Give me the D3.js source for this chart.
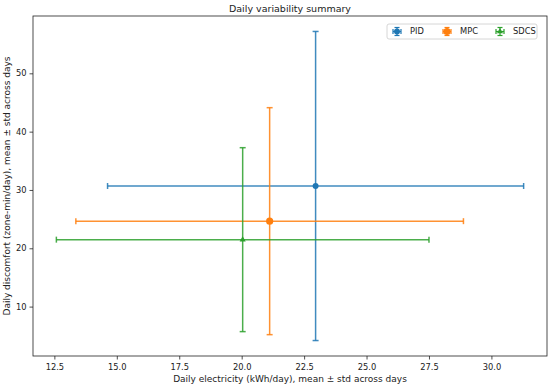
<!DOCTYPE html>
<html>
<head>
<meta charset="utf-8">
<script src="https://cdn.jsdelivr.net/npm/d3@7"></script>
<style>
  body { margin: 0; background: #fff; }
  text { font-family: "DejaVu Sans", sans-serif; }
</style>
</head>
<body>
<script>
// Controllers and their daily stats (mean and std across days)
var controllers = ["PID", "MPC", "SDCS"];
var elecMean = [22.96, 21.12, 20.04];
var elecStd = [8.33, 7.76, 7.46];
var discMean = [30.68, 24.65, 21.48];
var discStd = [26.5, 19.46, 15.77];
var colors = ["#1f77b4", "#ff7f0e", "#2ca02c"];
var xTicks = [12.5, 15.0, 17.5, 20.0, 22.5, 25.0, 27.5, 30.0];
var yTicks = [10, 20, 30, 40, 50];

var width = 550, height = 387;
var margin = {top: 16, right: 3, bottom: 31, left: 33};
var plotW = width - margin.left - margin.right,
    plotH = height - margin.top - margin.bottom;

var svg = d3.select("body").append("svg")
    .attr("width", width)
    .attr("height", height);

var g = svg.append("g")
    .attr("transform", "translate(" + margin.left + "," + margin.top + ")");

// matplotlib style 5% padding around the error bar extents
var xMin = d3.min(elecMean, (d, i) => d - elecStd[i]),
    xMax = d3.max(elecMean, (d, i) => d + elecStd[i]);
var yMin = d3.min(discMean, (d, i) => d - discStd[i]),
    yMax = d3.max(discMean, (d, i) => d + discStd[i]);
var xPad = (xMax - xMin) * 0.05, yPad = (yMax - yMin) * 0.05;

var x = d3.scaleLinear().domain([xMin - xPad, xMax + xPad]).range([0, plotW]);
var y = d3.scaleLinear().domain([yMin - yPad, yMax + yPad]).range([plotH, 0]);

// Axes
var xAxis = g.append("g")
    .attr("transform", "translate(0," + plotH + ")")
    .call(d3.axisBottom(x).tickValues(xTicks).tickFormat(d3.format(".1f")).tickSizeOuter(0).tickSize(3.5));
var yAxis = g.append("g")
    .call(d3.axisLeft(y).tickValues(yTicks).tickFormat(d3.format("d")).tickSizeOuter(0).tickSize(3.5));

[xAxis, yAxis].forEach(a => {
    a.select(".domain").remove();
    a.selectAll("line").attr("stroke", "#222").attr("stroke-width", 0.8);
    a.selectAll("text").style("font-size", "8.3px").attr("fill", "#222");
});
xAxis.selectAll("text").attr("dy", "0.9em");

// Frame
g.append("rect")
    .attr("width", plotW)
    .attr("height", plotH)
    .attr("fill", "none")
    .attr("stroke", "#222")
    .attr("stroke-width", 0.8);

// Error bars
var cap = 3;
controllers.forEach((name, i) => {
    var c = colors[i];
    var eb = g.append("g").attr("stroke", c).attr("stroke-width", 1.5).attr("stroke-opacity", 0.85);
    var cx = x(elecMean[i]), cy = y(discMean[i]);
    var x0 = x(elecMean[i] - elecStd[i]), x1 = x(elecMean[i] + elecStd[i]);
    var y0 = y(discMean[i] - discStd[i]), y1 = y(discMean[i] + discStd[i]);
    eb.append("line").attr("x1", x0).attr("x2", x1).attr("y1", cy).attr("y2", cy);
    eb.append("line").attr("x1", cx).attr("x2", cx).attr("y1", y0).attr("y2", y1);
    [x0, x1].forEach(px => eb.append("line").attr("x1", px).attr("x2", px).attr("y1", cy - cap).attr("y2", cy + cap));
    [y0, y1].forEach(py => eb.append("line").attr("x1", cx - cap).attr("x2", cx + cap).attr("y1", py).attr("y2", py));
});

// Markers
var markerShapes = [d3.symbolCircle, d3.symbolCircle, d3.symbolTriangle];
var markerSizes = [28, 40, 16];
controllers.forEach((name, i) => {
    g.append("path")
        .attr("d", d3.symbol().type(markerShapes[i]).size(markerSizes[i]))
        .attr("transform", "translate(" + x(elecMean[i]) + "," + y(discMean[i]) + ")")
        .attr("fill", colors[i]);
});

// Title and axis labels
svg.append("text")
    .attr("x", margin.left + plotW / 2)
    .attr("y", 12)
    .attr("text-anchor", "middle")
    .style("font-size", "9.5px")
    .attr("fill", "#222")
    .text("Daily variability summary");

svg.append("text")
    .attr("x", margin.left + plotW / 2)
    .attr("y", height - 5)
    .attr("text-anchor", "middle")
    .style("font-size", "9px")
    .attr("fill", "#222")
    .text("Daily electricity (kWh/day), mean \u00b1 std across days");

svg.append("text")
    .attr("transform", "rotate(-90)")
    .attr("x", -(margin.top + plotH / 2))
    .attr("y", 10)
    .attr("text-anchor", "middle")
    .style("font-size", "9px")
    .attr("fill", "#222")
    .text("Daily discomfort (zone-min/day), mean \u00b1 std across days");

// Legend
var legend = svg.append("g").attr("transform", "translate(387,24)");
legend.append("rect")
    .attr("width", 150)
    .attr("height", 15)
    .attr("rx", 2)
    .attr("fill", "#fff")
    .attr("fill-opacity", 0.8)
    .attr("stroke", "#ccc")
    .attr("stroke-width", 0.8);
var legX = [10, 60, 113];
controllers.forEach((name, i) => {
    var it = legend.append("g").attr("transform", "translate(" + legX[i] + ",7.5)");
    var lg = it.append("g").attr("stroke", colors[i]).attr("stroke-width", 1.2);
    lg.append("line").attr("x1", -4).attr("x2", 4);
    lg.append("line").attr("y1", -4).attr("y2", 4);
    lg.append("line").attr("x1", -4).attr("x2", -4).attr("y1", -2.5).attr("y2", 2.5);
    lg.append("line").attr("x1", 4).attr("x2", 4).attr("y1", -2.5).attr("y2", 2.5);
    lg.append("line").attr("y1", -4).attr("y2", -4).attr("x1", -2.5).attr("x2", 2.5);
    lg.append("line").attr("y1", 4).attr("y2", 4).attr("x1", -2.5).attr("x2", 2.5);
    it.append("path")
        .attr("d", d3.symbol().type(markerShapes[i]).size(markerSizes[i]))
        .attr("fill", colors[i]);
    it.append("text")
        .attr("x", 13)
        .attr("dy", "0.35em")
        .style("font-size", "8.3px")
        .attr("fill", "#222")
        .text(name);
});
</script>
</body>
</html>
